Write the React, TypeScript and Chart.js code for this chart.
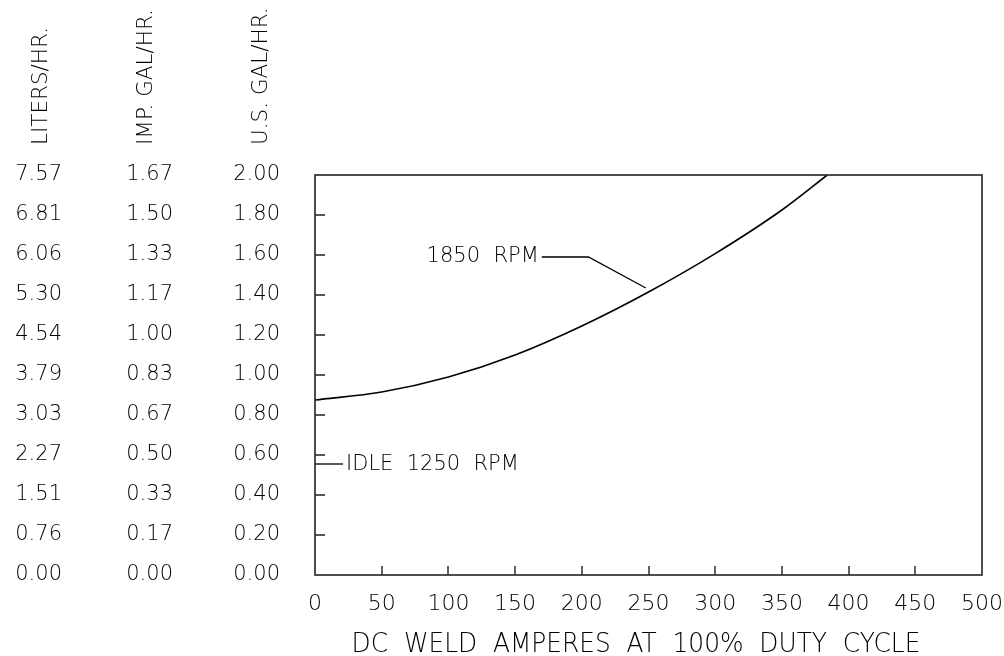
import React, { useEffect, useRef } from "react";
import { Chart, registerables } from "chart.js";

Chart.register(...registerables);

// ---- data ----
const amps = [0, 50, 100, 150, 200, 250, 300, 350, 384];
const usGalPerHr = [0.875, 0.915, 0.99, 1.1, 1.245, 1.415, 1.607, 1.825, 2.0];

const rpm1850LeaderX = [170, 205, 248];
const rpm1850LeaderY = [1.59, 1.59, 1.435];
const idleLeaderX = [0, 21];
const idleLeaderY = [0.555, 0.555];

const usGalTicks = ["0.00", "0.20", "0.40", "0.60", "0.80", "1.00", "1.20", "1.40", "1.60", "1.80", "2.00"];
const impGalTicks = ["0.00", "0.17", "0.33", "0.50", "0.67", "0.83", "1.00", "1.17", "1.33", "1.50", "1.67"];
const litersTicks = ["0.00", "0.76", "1.51", "2.27", "3.03", "3.79", "4.54", "5.30", "6.06", "6.81", "7.57"];
const ampTicks = ["0", "50", "100", "150", "200", "250", "300", "350", "400", "450", "500"];

const columnTitles = ["LITERS/HR.", "IMP. GAL/HR.", "U.S. GAL/HR."];
const xTitle = "DC  WELD  AMPERES  AT  100%  DUTY  CYCLE";
const label1850 = "1850  RPM";
const labelIdle = "IDLE  1250  RPM";

const FONT = "'DejaVu Sans', sans-serif";

const decorPlugin = {
  id: "decor",
  afterDraw(chart: any) {
    const ctx = chart.ctx as CanvasRenderingContext2D;
    const ca = chart.chartArea;
    const xs = chart.scales.x;
    const ys = chart.scales.us;

    ctx.save();
    // frame
    ctx.strokeStyle = "#222";
    ctx.lineWidth = 1.6;
    ctx.strokeRect(ca.left, ca.top, ca.right - ca.left, ca.bottom - ca.top);

    // inward tick marks
    ctx.lineWidth = 1.4;
    ctx.beginPath();
    ys.ticks.forEach((t: any) => {
      if (t.value <= ys.min + 1e-9 || t.value >= ys.max - 1e-9) return;
      const py = Math.round(ys.getPixelForValue(t.value));
      ctx.moveTo(ca.left, py);
      ctx.lineTo(ca.left + 10, py);
    });
    xs.ticks.forEach((t: any) => {
      if (t.value <= xs.min + 1e-9 || t.value >= xs.max - 1e-9) return;
      const px = Math.round(xs.getPixelForValue(t.value));
      ctx.moveTo(px, ca.bottom);
      ctx.lineTo(px, ca.bottom - 9);
    });
    ctx.stroke();

    ctx.fillStyle = "#000";

    // annotation texts
    ctx.font = `200 21px ${FONT}`;
    ctx.textBaseline = "middle";
    ctx.textAlign = "right";
    ctx.fillText(
      label1850,
      xs.getPixelForValue(rpm1850LeaderX[0]) - 3,
      ys.getPixelForValue(rpm1850LeaderY[0])
    );
    ctx.textAlign = "left";
    ctx.fillText(
      labelIdle,
      xs.getPixelForValue(idleLeaderX[1]) + 3,
      ys.getPixelForValue(idleLeaderY[1]) + 1
    );

    // rotated column titles
    const titleX = [47, 152, 267];
    ctx.font = `200 21.5px ${FONT}`;
    ctx.textBaseline = "alphabetic";
    ctx.textAlign = "left";
    columnTitles.forEach((t, i) => {
      ctx.save();
      ctx.translate(titleX[i], 145);
      ctx.rotate(-Math.PI / 2);
      ctx.fillText(t, 0, 0);
      ctx.restore();
    });

    // x axis title (slightly condensed)
    ctx.save();
    ctx.font = `200 27px ${FONT}`;
    ctx.textAlign = "center";
    ctx.textBaseline = "alphabetic";
    ctx.translate(ca.left + 321, 652);
    ctx.scale(0.92, 1);
    ctx.fillText(xTitle, 0, 0);
    ctx.restore();

    ctx.restore();
  },
};

export default function App() {
  const ref = useRef<HTMLCanvasElement | null>(null);

  useEffect(() => {
    if (!ref.current) return;
    Chart.defaults.font.family = FONT;
    Chart.defaults.color = "#000";

    const yAxisBase = (labels: string[], width: number, padding: number, weight: number) => ({
      type: "linear" as const,
      position: "left" as const,
      min: 0,
      max: 2,
      weight,
      grid: { display: false, drawTicks: false },
      border: { display: false },
      ticks: {
        stepSize: 0.2,
        padding,
        font: { size: 21, weight: "200" },
        color: "#000",
        callback: (v: any) => labels[Math.round(Number(v) / 0.2)] ?? "",
      },
      afterFit: (s: any) => {
        s.width = width;
        s.paddingTop = 0;
        s.paddingBottom = 0;
      },
    });

    const chart = new Chart(ref.current, {
      type: "line",
      data: {
        datasets: [
          {
            label: "1850 RPM",
            data: amps.map((a, i) => ({ x: a, y: usGalPerHr[i] })),
            borderColor: "#000",
            borderWidth: 1.6,
            pointRadius: 0,
            cubicInterpolationMode: "monotone",
            yAxisID: "us",
          },
          {
            label: "1850 leader",
            data: rpm1850LeaderX.map((a, i) => ({ x: a, y: rpm1850LeaderY[i] })),
            borderColor: "#000",
            borderWidth: 1.3,
            pointRadius: 0,
            tension: 0,
            yAxisID: "us",
          },
          {
            label: "idle leader",
            data: idleLeaderX.map((a, i) => ({ x: a, y: idleLeaderY[i] })),
            borderColor: "#000",
            borderWidth: 1.3,
            pointRadius: 0,
            tension: 0,
            yAxisID: "us",
          },
        ],
      },
      options: {
        animation: false,
        responsive: false,
        layout: { padding: { top: 175, right: 22, bottom: 0, left: 0 } },
        plugins: { legend: { display: false }, tooltip: { enabled: false } },
        scales: {
          x: {
            type: "linear",
            min: 0,
            max: 500,
            grid: { display: false, drawTicks: false },
            border: { display: false },
            ticks: {
              stepSize: 50,
              padding: 16,
              font: { size: 22, weight: "200" },
              color: "#000",
              maxRotation: 0,
              autoSkip: false,
              callback: (v: any) => ampTicks[Math.round(Number(v) / 50)] ?? "",
            },
            afterFit: (s: any) => {
              s.height = 81;
              s.paddingLeft = 0;
              s.paddingRight = 0;
            },
          },
          liters: yAxisBase(litersTicks, 70, 8, 3),
          imp: yAxisBase(impGalTicks, 110, 7, 2),
          us: yAxisBase(usGalTicks, 135, 35, 1),
        } as any,
      },
      plugins: [decorPlugin],
    });

    return () => chart.destroy();
  }, []);

  return (
    <div style={{ position: "fixed", left: 0, top: 0, width: 1004, height: 656, background: "#fff" }}>
      <canvas ref={ref} width={1004} height={656} style={{ display: "block" }} />
    </div>
  );
}
